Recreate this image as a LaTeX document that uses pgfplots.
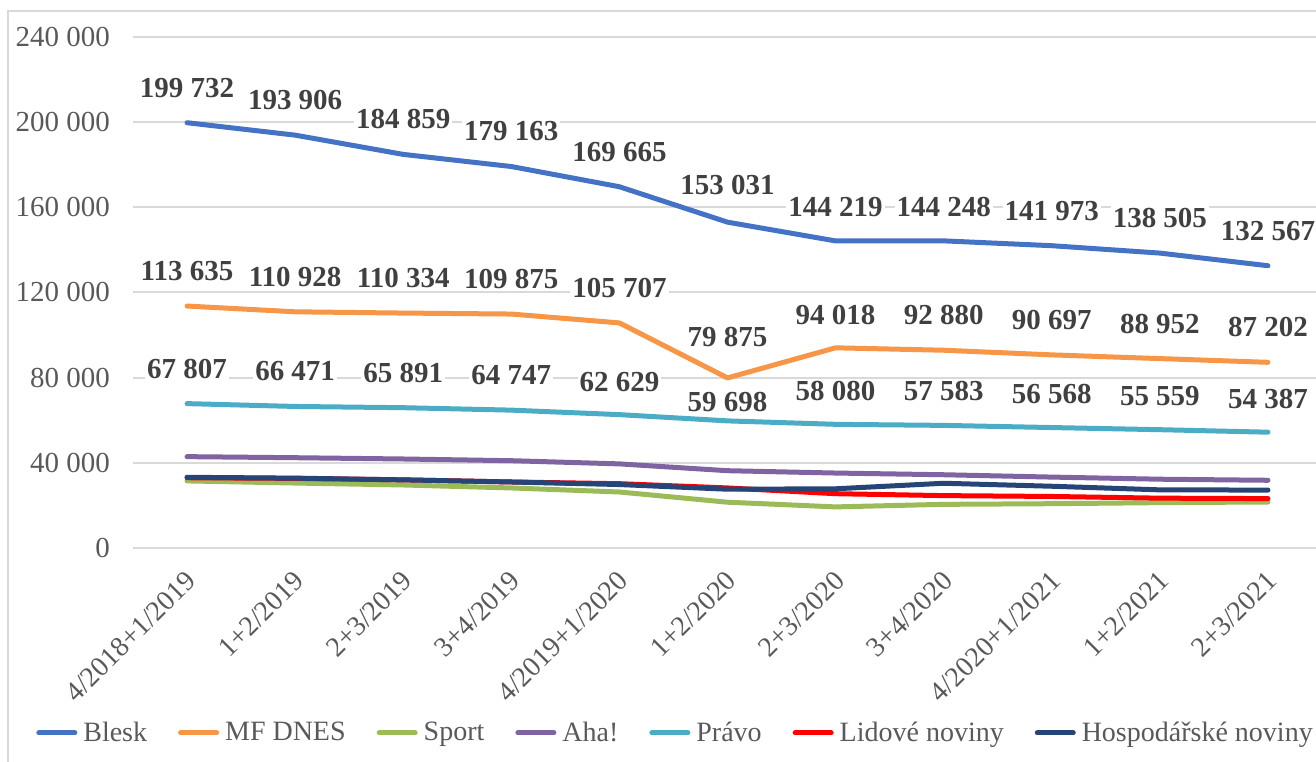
\documentclass[border=0pt]{standalone}
\usepackage{pgfplots}
\pgfplotsset{compat=1.18}
\usepackage{fontspec}
\setmainfont{Liberation Serif}
\definecolor{cBlesk}{HTML}{4472C4}
\definecolor{cMF}{HTML}{F79646}
\definecolor{cSport}{HTML}{9BBB59}
\definecolor{cAha}{HTML}{8064A2}
\definecolor{cPravo}{HTML}{4BACC6}
\definecolor{cLid}{HTML}{FF0000}
\definecolor{cHosp}{HTML}{264478}
\definecolor{tickgray}{HTML}{595959}
\definecolor{labgray}{HTML}{404040}
\definecolor{gridgray}{HTML}{D9D9D9}
\begin{document}
\begin{tikzpicture}
\begin{axis}[name=ax, scale only axis, width=594.5pt, height=255.5pt,
  xmin=-0.5, xmax=10.5, ymin=0, ymax=240000, clip=false,
  scaled y ticks=false,
  axis line style={draw=none},
  ymajorgrids, major grid style={gridgray, line width=1pt},
  major tick length=0pt,
  ytick={0,40000,80000,120000,160000,200000,240000},
  yticklabels={0,40 000,80 000,120 000,160 000,200 000,240 000},
  yticklabel style={font=\fontsize{14.5}{14.5}\selectfont, text=tickgray, xshift=-8pt},
  xtick={0,...,10},
  xticklabels={4/2018+1/2019,1+2/2019,2+3/2019,3+4/2019,4/2019+1/2020,1+2/2020,2+3/2020,3+4/2020,4/2020+1/2021,1+2/2021,2+3/2021},
  xticklabel style={rotate=45, anchor=north east, font=\fontsize{14}{14}\selectfont, text=tickgray, xshift=-5pt, yshift=-3pt},
  every axis plot/.append style={line width=2.5pt, line cap=round, line join=round, mark=none},
  legend columns=7,
  legend style={at={(0.458,-0.362)}, anchor=center, draw=none, fill=none,
    font=\fontsize{14}{14}\selectfont, text=tickgray,
    /tikz/every even column/.append style={column sep=12.5pt},
    nodes={inner xsep=3pt}},
  legend image code/.code={\draw[#1] (0pt,0pt) -- (18pt,0pt);},
  lab/.style={nodes near coords, point meta=y,
    visualization depends on={\thisrow{dy} \as \dy},
    every node near coord/.append style={anchor=center, yshift=\dy pt,
      fill=white, inner sep=1pt,
      font=\fontsize{14.5}{14.5}\selectfont\bfseries, text=labgray,
      /pgf/number format/.cd, fixed, precision=0, 1000 sep={\ }, assume math mode=true}},
]
\addplot[cBlesk, lab] table[x=x, y=y] {
x y dy
0 199732 17.5
1 193906 17.5
2 184859 17.5
3 179163 17.5
4 169665 17.5
5 153031 18.5
6 144219 17
7 144248 17
8 141973 17.5
9 138505 17.5
10 132567 17.5
};
\addlegendentry{Blesk}
\addplot[cMF, lab] table[x=x, y=y] {
x y dy
0 113635 17.5
1 110928 17.5
2 110334 17.5
3 109875 17.5
4 105707 17.5
5 79875 20.5
6 94018 16.5
7 92880 17.5
8 90697 17.5
9 88952 17.5
10 87202 17.5
};
\addlegendentry{MF DNES}
\addplot[cSport] coordinates {(0,31500)(1,30500)(2,29600)(3,28200)(4,26300)(5,21500)(6,19300)(7,20500)(8,20800)(9,21300)(10,21600)};
\addlegendentry{Sport}
\addplot[cAha] coordinates {(0,42900)(1,42400)(2,41800)(3,41000)(4,39500)(5,36300)(6,35200)(7,34400)(8,33300)(9,32300)(10,31800)};
\addlegendentry{Aha!}
\addplot[cPravo, lab] table[x=x, y=y] {
x y dy
0 67807 17.5
1 66471 17.5
2 65891 17.5
3 64747 17.5
4 62629 16.5
5 59698 9.5
6 58080 16.5
7 57583 17
8 56568 17
9 55559 17
10 54387 16.5
};
\addlegendentry{Právo}
\addplot[cLid] coordinates {(0,33000)(1,32700)(2,32000)(3,31000)(4,30200)(5,28200)(6,25500)(7,24600)(8,24200)(9,23400)(10,23200)};
\addlegendentry{Lidové noviny}
\addplot[cHosp] coordinates {(0,33200)(1,32800)(2,32000)(3,31000)(4,29800)(5,27600)(6,27800)(7,30400)(8,29000)(9,27300)(10,27200)};
\addlegendentry{Hospodářské noviny}
\end{axis}
\draw[gridgray, line width=1pt] ([xshift=-62.5pt,yshift=-200pt]ax.south west) |- ([xshift=50pt,yshift=13pt]ax.north east);
\pgfresetboundingbox
\path[use as bounding box] ([xshift=-66.5pt,yshift=-107pt]ax.south west) rectangle ([xshift=-3pt,yshift=18.5pt]ax.north east);
\end{tikzpicture}
\end{document}
